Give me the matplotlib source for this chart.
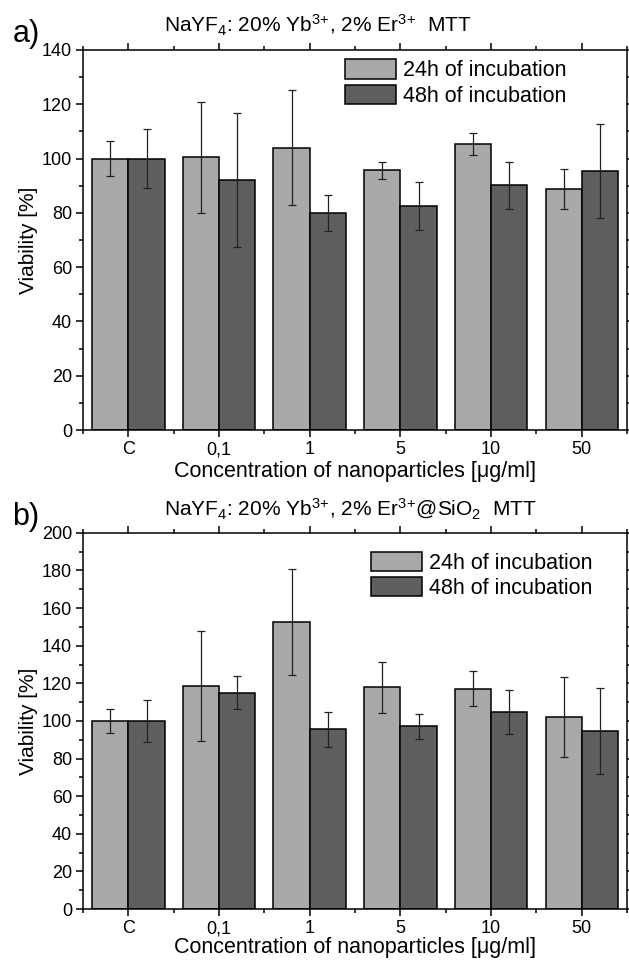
import matplotlib
matplotlib.use('Agg')
import matplotlib.pyplot as plt
import numpy as np
from matplotlib.ticker import MultipleLocator

plt.rcParams['font.family'] = ['Liberation Sans', 'DejaVu Sans']
plt.rcParams['mathtext.fontset'] = 'custom'
plt.rcParams['mathtext.rm'] = 'Liberation Sans'
plt.rcParams['mathtext.it'] = 'Liberation Sans:italic'
plt.rcParams['mathtext.bf'] = 'Liberation Sans:bold'

categories = ['C', '0,1', '1', '5', '10', '50']
series_labels = ['24h of incubation', '48h of incubation']

# a) NaYF4 core particles
a_24h = [100, 100.5, 104, 95.6, 105.3, 88.8]
a_24h_err = [6.3, 20.5, 21.2, 3.1, 4.0, 7.2]
a_48h = [100, 92.1, 79.9, 82.4, 90.1, 95.4]
a_48h_err = [11, 24.7, 6.6, 8.8, 8.5, 17.4]

# b) silica coated
b_24h = [100, 118.7, 152.7, 117.8, 117.2, 102]
b_24h_err = [6.6, 29.1, 28.2, 13.5, 9.4, 21.1]
b_48h = [100, 115.1, 95.6, 97.1, 105, 94.8]
b_48h_err = [11.1, 8.6, 9.3, 6.5, 11.7, 22.8]

light = '#a9a9a9'
dark = '#5e5e5e'

fig = plt.figure(figsize=(6.29, 9.6), dpi=100)
ax_a = fig.add_axes([0.132, 0.552, 0.865, 0.396])
ax_b = fig.add_axes([0.132, 0.053, 0.865, 0.392])


def draw_panel(ax, v24, e24, v48, e48, ymax, title, letter, leg_anchor, xpad):
    x = np.arange(1, len(categories) + 1)
    w = 0.4
    ekw = dict(ecolor='#222222', elinewidth=0.9, capsize=3, capthick=0.9)
    ax.bar(x - w / 2, v24, w, color=light, edgecolor='black', linewidth=1.1,
           yerr=e24, error_kw=ekw, label=series_labels[0])
    ax.bar(x + w / 2, v48, w, color=dark, edgecolor='black', linewidth=1.1,
           yerr=e48, error_kw=ekw, label=series_labels[1])
    ax.set_xlim(0.5, len(categories) + 0.5)
    ax.set_ylim(0, ymax)
    ax.set_xticks(x)
    ax.set_xticklabels(categories)
    ax.xaxis.set_minor_locator(MultipleLocator(0.5))
    ax.yaxis.set_major_locator(MultipleLocator(20))
    ax.yaxis.set_minor_locator(MultipleLocator(10))
    ax.tick_params(which='both', direction='out', top=True, right=True,
                   width=1.1, labelsize=13)
    ax.tick_params(which='major', length=5, pad=3)
    ax.tick_params(which='minor', length=3)
    for s in ax.spines.values():
        s.set_linewidth(1.1)
    ax.set_ylabel('Viability [%]', fontsize=15, labelpad=3)
    ax.set_xlabel('Concentration of nanoparticles [μg/ml]', fontsize=15.5, labelpad=xpad)
    ax.text(0.148, 1.045, title, transform=ax.transAxes, ha='left', va='baseline',
            fontsize=15)
    ax.text(-0.13, 1.02, letter, transform=ax.transAxes, ha='left', va='baseline',
            fontsize=22)
    ax.legend(loc='upper right', bbox_to_anchor=leg_anchor, frameon=False,
              fontsize=15.5, handlelength=2.4, handleheight=1.0, labelspacing=0.15,
              handletextpad=0.3, borderpad=0, borderaxespad=0)


draw_panel(ax_a, a_24h, a_24h_err, a_48h, a_48h_err, 140,
           r'NaYF$_4$: 20% Yb$^{3\!+\!}$, 2% Er$^{3\!+\!}$  MTT', 'a)', (0.888, 0.975), 2)
draw_panel(ax_b, b_24h, b_24h_err, b_48h, b_48h_err, 200,
           r'NaYF$_4$: 20% Yb$^{3\!+\!}$, 2% Er$^{3\!+\!}$@SiO$_2$  MTT', 'b)', (0.936, 0.95), 0)

fig.savefig('out.png', dpi=100)
